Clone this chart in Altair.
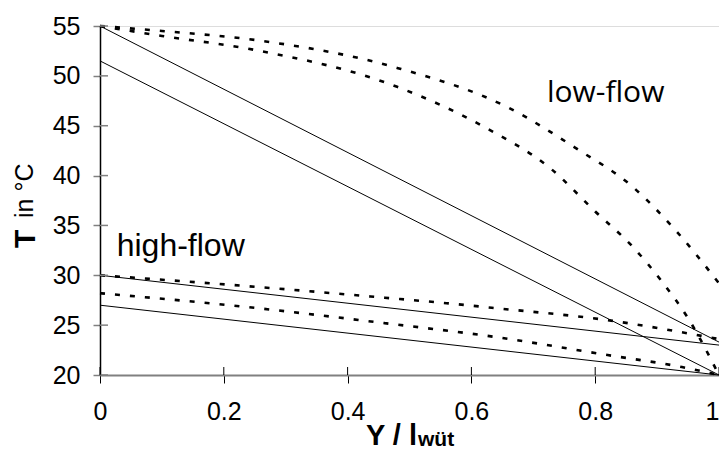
import altair as alt
import pandas as pd

# ---------------- data ----------------
x_ticks = [0, 0.2, 0.4, 0.6, 0.8, 1.0]
y_ticks = [20, 25, 30, 35, 40, 45, 50, 55]

# low-flow, dotted curves
lf_up_x = [0, 0.1, 0.25, 0.48, 0.66, 0.77, 0.86, 0.93, 1.0]
lf_up_t = [55, 54.5, 53.6, 50.8, 46.8, 42.7, 38.9, 34.5, 29.2]
lf_lo_x = [0, 0.1, 0.25, 0.48, 0.62, 0.73, 0.80, 0.86, 0.91, 0.95, 1.0]
lf_lo_t = [55, 54.0, 52.6, 48.9, 44.9, 40.6, 36.4, 32.9, 29.2, 25.7, 20.0]

# high-flow, dotted curves
hf_up_x = [0, 0.24, 0.46, 0.56, 0.64, 0.82, 1.0]
hf_up_t = [30, 28.9, 27.75, 27.2, 26.7, 25.5, 23.6]
hf_lo_x = [0, 0.225, 0.46, 0.64, 0.82, 0.94, 1.0]
hf_lo_t = [28.2, 26.9, 25.2, 23.8, 22.0, 20.8, 20.0]

# solid straight lines
s1_x = [0, 1.0]
s1_t = [55, 23.3]
s2_x = [0, 1.0]
s2_t = [51.5, 20.0]
s3_x = [0, 1.0]
s3_t = [30, 23.0]
s4_x = [0, 1.0]
s4_t = [27, 20.0]

labels = ["low-flow", "high-flow"]
label_x = [0.722, 0.027]
label_t = [47.4, 31.9]


def long(series):
    rows = []
    for name, xs, ts in series:
        for i, (a, b) in enumerate(zip(xs, ts)):
            rows.append({"s": name, "x": a, "t": b, "o": i})
    return pd.DataFrame(rows)


dotted = long([("lf_up", lf_up_x, lf_up_t), ("lf_lo", lf_lo_x, lf_lo_t),
               ("hf_up", hf_up_x, hf_up_t), ("hf_lo", hf_lo_x, hf_lo_t)])
solid = long([("s1", s1_x, s1_t), ("s2", s2_x, s2_t),
              ("s3", s3_x, s3_t), ("s4", s4_x, s4_t)])

W, H = 619, 349
FONT = "Liberation Sans"

xs = alt.Scale(domain=[0, 1], nice=False, zero=False)
ys = alt.Scale(domain=[20, 55], nice=False, zero=False)

x_enc = alt.X("x:Q", scale=xs, axis=alt.Axis(
    values=x_ticks, format="~g", title=None, grid=False,
    domainColor="#808080", domainWidth=2,
    tickColor="#000000", tickWidth=1, tickSize=8,
    labelFont=FONT, labelFontSize=25, labelColor="#000000", labelPadding=16,
    labelAlign={"condition": {"test": "datum.value === 1", "value": "right"}, "value": "center"},
))
y_enc = alt.Y("t:Q", scale=ys, axis=alt.Axis(
    values=y_ticks, title=None, grid=False,
    domainColor="#000000", domainWidth=1.5,
    tickColor="#808080", tickWidth=1.5, tickSize=7,
    labelFont=FONT, labelFontSize=25, labelColor="#000000", labelPadding=13,
))

dot_layer = alt.Chart(dotted).mark_line(
    color="black", strokeWidth=2.6, strokeDash=[5, 10], interpolate="monotone"
).encode(x=x_enc, y=y_enc, detail="s:N", order="o:Q")

solid_layer = alt.Chart(solid).mark_line(
    color="black", strokeWidth=1
).encode(x=alt.X("x:Q", scale=xs), y=alt.Y("t:Q", scale=ys), detail="s:N", order="o:Q")

# inner halves of the ticks (ticks cross the axes in the reference)
yt_df = pd.DataFrame({"t": y_ticks})
xt_df = pd.DataFrame({"x": x_ticks})
y_inner = alt.Chart(yt_df).mark_rule(color="#808080", strokeWidth=1.5).encode(
    y=alt.Y("t:Q", scale=ys), x=alt.value(0), x2=alt.value(8))
x_inner = alt.Chart(xt_df).mark_rule(color="#000000", strokeWidth=1).encode(
    x=alt.X("x:Q", scale=xs), y=alt.value(H), y2=alt.value(H - 8))

ann = pd.DataFrame({"label": labels, "x": label_x, "t": label_t})
low_text = alt.Chart(ann[ann.label == "low-flow"]).mark_text(
    font="Open Sans", fontSize=30, align="left", baseline="alphabetic", color="black"
).encode(x=alt.X("x:Q", scale=xs), y=alt.Y("t:Q", scale=ys), text="label:N")
high_text = alt.Chart(ann[ann.label == "high-flow"]).mark_text(
    font=FONT, fontSize=32, align="left", baseline="alphabetic", color="black"
).encode(x=alt.X("x:Q", scale=xs), y=alt.Y("t:Q", scale=ys), text="label:N")

# axis titles built from text marks (mixed sizes)
ytitle_main = alt.Chart(pd.DataFrame({"s": ["T"]})).mark_text(
    font=FONT, fontSize=30, fontWeight="bold", angle=270, align="left",
    baseline="alphabetic", color="black"
).encode(x=alt.value(-65), y=alt.value(222), text="s:N")
ytitle_sub = alt.Chart(pd.DataFrame({"s": ["in °C"]})).mark_text(
    font=FONT, fontSize=25, angle=270, align="left",
    baseline="alphabetic", color="black"
).encode(x=alt.value(-67), y=alt.value(192), text="s:N")
xtitle_main = alt.Chart(pd.DataFrame({"s": ["Y / l"]})).mark_text(
    font=FONT, fontSize=29, fontWeight="bold", align="right",
    baseline="alphabetic", color="black"
).encode(x=alt.value(317), y=alt.value(419), text="s:N")
xtitle_sub = alt.Chart(pd.DataFrame({"s": ["wüt"]})).mark_text(
    font=FONT, fontSize=21, fontWeight="bold", align="left",
    baseline="alphabetic", color="black"
).encode(x=alt.value(318), y=alt.value(420), text="s:N")

chart = alt.layer(
    dot_layer, solid_layer, y_inner, x_inner, low_text, high_text,
    ytitle_main, ytitle_sub, xtitle_main, xtitle_sub
).properties(
    width=W, height=H,
    autosize=alt.AutoSizeParams(type="none"),
    padding={"left": 92, "top": 18, "right": 0, "bottom": 77},
).configure_view(stroke=None).configure(background="white")

chart.save("out.html", embed_options={"renderer": "svg", "actions": False})
